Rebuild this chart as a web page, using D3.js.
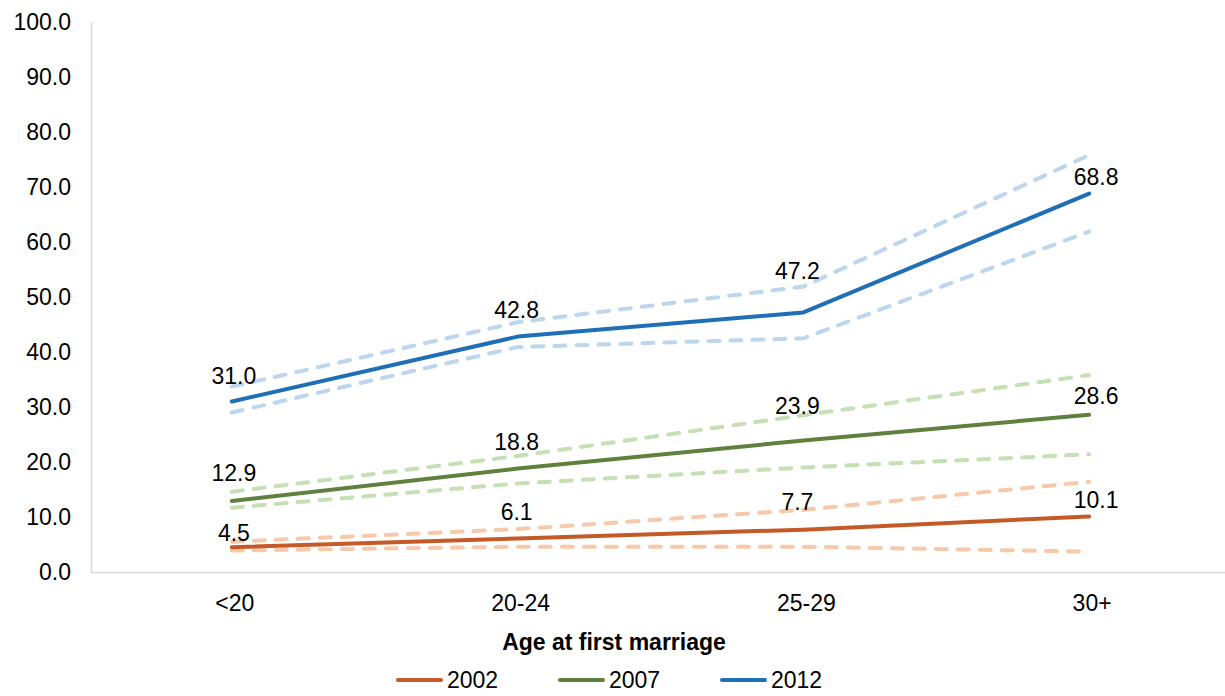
<!DOCTYPE html>
<html>
<head>
<meta charset="utf-8">
<script src="https://cdn.jsdelivr.net/npm/d3@7"></script>
<style>
  body { margin: 0; background: #fff; }
  svg text { font-family: "Liberation Sans", Arial, sans-serif; fill: #000; }
</style>
</head>
<body>
<svg id="chart" width="1225" height="696"></svg>
<script>
const categories = ["<20", "20-24", "25-29", "30+"];
const years = ["2002", "2007", "2012"];

const values2002 = [4.5, 6.1, 7.7, 10.1];
const upper2002 = [5.5, 7.8, 11.3, 16.4];
const lower2002 = [3.9, 4.6, 4.6, 3.7];

const values2007 = [12.9, 18.8, 23.9, 28.6];
const upper2007 = [14.6, 21.1, 28.5, 35.8];
const lower2007 = [11.7, 16.1, 19.0, 21.4];

const values2012 = [31.0, 42.8, 47.2, 68.8];
const upper2012 = [33.7, 45.4, 51.9, 75.8];
const lower2012 = [29.0, 40.9, 42.5, 61.9];

const yTicks = [0, 10, 20, 30, 40, 50, 60, 70, 80, 90, 100];

const colors = { "2002": "#C55A28", "2007": "#60803D", "2012": "#1F6FB7" };
const lightColors = { "2002": "#F7C9AB", "2007": "#C6DFB4", "2012": "#BDD6EE" };

// hand-placed data labels: how far above the point (px), and x shift per category
const labelLift = { "2002": [15, 27, 28, 17], "2007": [28, 27, 35, 19], "2012": [26, 27, 42, 17] };
const labelShift = [2, -1, -6, 7];

const series = [
    { year: "2002", values: values2002, upper: upper2002, lower: lower2002 },
    { year: "2007", values: values2007, upper: upper2007, lower: lower2007 },
    { year: "2012", values: values2012, upper: upper2012, lower: lower2012 }
];

const svg = d3.select("#chart");
const fs = 23;

const x = d3.scaleBand().domain(categories).range([89, 1232]);
const y = d3.scaleLinear().domain([0, 100]).range([572, 22]);
const cx = c => x(c) + x.bandwidth() / 2;

// axes lines
svg.append("line")
    .attr("x1", 91.5).attr("x2", 91.5)
    .attr("y1", y(100)).attr("y2", y(0))
    .attr("stroke", "#d9d9d9").attr("stroke-width", 1.5);
svg.append("line")
    .attr("x1", 91).attr("x2", 1225)
    .attr("y1", y(0) + 0.5).attr("y2", y(0) + 0.5)
    .attr("stroke", "#d9d9d9").attr("stroke-width", 1.5);

// y tick labels
svg.append("g").selectAll("text")
    .data(yTicks)
    .join("text")
    .attr("x", 71)
    .attr("y", d => y(d))
    .attr("dy", "0.36em")
    .attr("text-anchor", "end")
    .attr("font-size", fs)
    .text(d => d.toFixed(1));

// x tick labels
svg.append("g").selectAll("text")
    .data(categories)
    .join("text")
    .attr("x", d => cx(d) + 3)
    .attr("y", 603)
    .attr("dy", "0.36em")
    .attr("text-anchor", "middle")
    .attr("font-size", fs)
    .text(d => d);

svg.append("text")
    .attr("x", 614)
    .attr("y", 642)
    .attr("dy", "0.36em")
    .attr("text-anchor", "middle")
    .attr("font-size", fs)
    .attr("font-weight", "bold")
    .text("Age at first marriage");

const line = d3.line()
    .x((d, i) => cx(categories[i]))
    .y(d => y(d));

const g = svg.append("g");

// dashed bounds
series.forEach(s => {
    [s.upper, s.lower].forEach(b => {
        g.append("path")
            .attr("d", line(b))
            .attr("fill", "none")
            .attr("stroke", lightColors[s.year])
            .attr("stroke-width", 4)
            .attr("stroke-linecap", "round")
            .attr("stroke-dasharray", "11 11");
    });
});

// main lines
series.forEach(s => {
    g.append("path")
        .attr("d", line(s.values))
        .attr("fill", "none")
        .attr("stroke", colors[s.year])
        .attr("stroke-width", 4)
        .attr("stroke-linecap", "round")
        .attr("stroke-linejoin", "round");
});

// data labels
series.forEach(s => {
    g.append("g").selectAll("text")
        .data(s.values)
        .join("text")
        .attr("x", (d, i) => cx(categories[i]) + labelShift[i])
        .attr("y", (d, i) => y(d) - labelLift[s.year][i])
        .attr("dy", "0.36em")
        .attr("text-anchor", "middle")
        .attr("font-size", fs)
        .text(d => d.toFixed(1));
});

// legend
const legendX = [398, 560, 722];
const legend = svg.append("g").selectAll("g")
    .data(years)
    .join("g")
    .attr("transform", (d, i) => `translate(${legendX[i]},680)`);
legend.append("line")
    .attr("x1", 0).attr("x2", 43)
    .attr("stroke", d => colors[d])
    .attr("stroke-width", 4)
    .attr("stroke-linecap", "round");
legend.append("text")
    .attr("x", 49)
    .attr("dy", "0.36em")
    .attr("font-size", fs)
    .text(d => d);
</script>
</body>
</html>
